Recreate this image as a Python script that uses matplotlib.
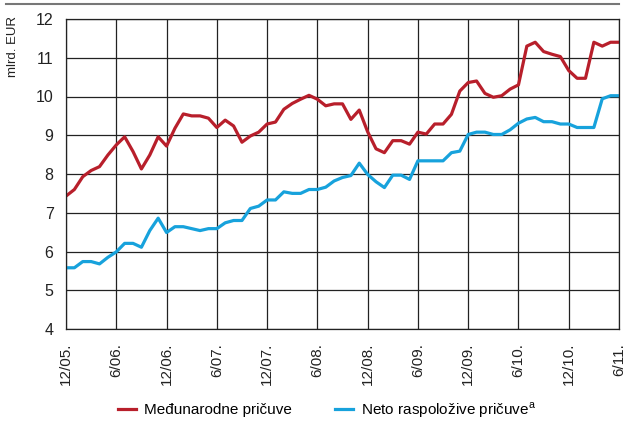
import numpy as np
import matplotlib
matplotlib.use('Agg')
import matplotlib.pyplot as plt
from matplotlib import font_manager
from matplotlib.lines import Line2D

# monthly data, 12/05 .. 6/11 (mlrd. EUR)
medunarodne = [7.43, 7.60, 7.93, 8.09, 8.19, 8.49, 8.75, 8.96, 8.58, 8.13,
               8.49, 8.96, 8.72, 9.18, 9.55, 9.50, 9.50, 9.44, 9.20, 9.39,
               9.24, 8.82, 8.98, 9.08, 9.29, 9.34, 9.67, 9.82, 9.93, 10.03,
               9.93, 9.76, 9.81, 9.81, 9.41, 9.65, 9.09, 8.65, 8.55, 8.86,
               8.86, 8.77, 9.08, 9.03, 9.29, 9.29, 9.54, 10.14, 10.36, 10.40,
               10.08, 9.98, 10.02, 10.19, 10.30, 11.30, 11.40, 11.16, 11.09, 11.03,
               10.67, 10.47, 10.47, 11.40, 11.30, 11.40, 11.40]
neto = [5.58, 5.58, 5.74, 5.74, 5.68, 5.85, 5.99, 6.21, 6.21, 6.11,
        6.54, 6.86, 6.49, 6.64, 6.64, 6.59, 6.54, 6.59, 6.59, 6.74,
        6.80, 6.80, 7.11, 7.17, 7.33, 7.33, 7.54, 7.50, 7.50, 7.60,
        7.60, 7.66, 7.82, 7.91, 7.96, 8.28, 7.99, 7.80, 7.65, 7.97,
        7.97, 7.86, 8.34, 8.34, 8.34, 8.34, 8.55, 8.59, 9.02, 9.08,
        9.08, 9.02, 9.02, 9.14, 9.31, 9.42, 9.46, 9.35, 9.35, 9.29,
        9.29, 9.20, 9.20, 9.20, 9.94, 10.02, 10.02]
tick_labels = ['12/05.', '6/06.', '12/06.', '6/07.', '12/07.', '6/08.',
               '12/08.', '6/09.', '12/09.', '6/10.', '12/10.', '6/11.']

names = {f.name for f in font_manager.fontManager.ttflist}
font = 'Liberation Sans Narrow' if 'Liberation Sans Narrow' in names else 'Liberation Sans'
plt.rcParams['font.family'] = [font, 'DejaVu Sans']
plt.rcParams['mathtext.fontset'] = 'custom'
plt.rcParams['mathtext.rm'] = font

months = np.arange(len(medunarodne))

fig = plt.figure(figsize=(6.25, 4.21), dpi=100)
ax = fig.add_axes([66/625, 1 - 329/421, 553/625, 310/421])

ax.plot(months, medunarodne, color='#b81f2b', lw=2.3, label='Međunarodne pričuve')
ax.plot(months, neto, color='#17a2dc', lw=2.3, label='Neto raspoložive pričuve$^{\\mathrm{a}}$')

ax.set_xlim(0, 66)
ax.set_ylim(4, 12)
ax.set_xticks(np.arange(0, 67, 6))
ax.set_xticklabels(tick_labels, rotation=90, va='top', ha='center')
ax.set_yticks(np.arange(4, 13, 1))
ax.tick_params(length=0, labelsize=11.5, colors='#222222')
ax.tick_params(axis='y', pad=9)
ax.tick_params(axis='x', pad=10, labelsize=11)
ax.grid(True, color='#222222', lw=0.9)
ax.set_axisbelow(True)
for s in ax.spines.values():
    s.set_color('#222222')
    s.set_linewidth(0.9)

ax.set_ylabel('mlrd. EUR', fontsize=9.5, color='#222222')
ax.yaxis.set_label_coords(-0.085, 0.91)

fig.add_artist(Line2D([6/625, 619/625], [1 - 4/421, 1 - 4/421], color='#777777', lw=1.5))

fig.legend(loc='center', bbox_to_anchor=(0.523, 1 - 410/421), ncol=2, frameon=False,
           fontsize=11, handlelength=1.2, columnspacing=2.8, handletextpad=0.5)

fig.savefig('out.png', dpi=100)
